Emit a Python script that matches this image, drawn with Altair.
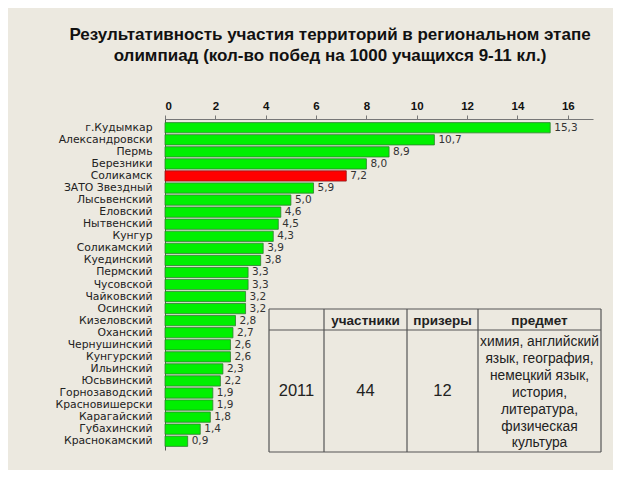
import altair as alt
import pandas as pd

territories = ["г.Кудымкар", "Александровски", "Пермь", "Березники", "Соликамск",
               "ЗАТО Звездный", "Лысьвенский", "Еловский", "Нытвенский", "Кунгур",
               "Соликамский", "Куединский", "Пермский", "Чусовской", "Чайковский",
               "Осинский", "Кизеловский", "Оханский", "Чернушинский", "Кунгурский",
               "Ильинский", "Юсьвинский", "Горнозаводский", "Красновишерски",
               "Карагайский", "Губахинский", "Краснокамский"]
wins = [15.3, 10.7, 8.9, 8.0, 7.2, 5.9, 5.0, 4.6, 4.5, 4.3, 3.9, 3.8, 3.3, 3.3, 3.2,
        3.2, 2.8, 2.7, 2.6, 2.6, 2.3, 2.2, 1.9, 1.9, 1.8, 1.4, 0.9]
highlight = "Соликамск"

title_lines = ["Результативность участия территорий в региональном этапе",
               "олимпиад (кол-во побед на 1000 учащихся 9-11 кл.)"]

table_header = ["участники", "призеры", "предмет"]
table_row = ["2011", "44", "12"]
subjects = ["химия, английский", "язык, география,", "немецкий язык,", "история,",
            "литература,", "физическая", "культура"]

df = pd.DataFrame({"territory": territories, "wins": wins})
df["hl"] = df["territory"].eq(highlight)

BG = "#ECE9E0"
W, H = 428, 331

x_scale = alt.Scale(domain=[0, 17], nice=False, zero=True)
y_scale = alt.Scale(paddingInner=0.15, paddingOuter=0.3)

base = alt.Chart(df)

bars = base.mark_bar(strokeWidth=0.8).encode(
    x=alt.X("wins:Q", scale=x_scale,
            axis=alt.Axis(orient="top", values=list(range(0, 17, 2)), title=None,
                          grid=False, labelFontSize=11.5, labelColor="#111",
                          labelFontWeight="bold", labelFont="Liberation Sans",
                          tickSize=4, tickColor="#777", domainColor="#777",
                          labelPadding=4)),
    y=alt.Y("territory:N", sort=territories, scale=y_scale,
            axis=alt.Axis(title=None, ticks=False, labelFontSize=10.8,
                          labelColor="#222", labelFont="DejaVu Sans",
                          labelPadding=13, domainColor="#555", labelLimit=200)),
    color=alt.Color("hl:N", scale=alt.Scale(domain=[False, True],
                                            range=["#00F000", "#FF0000"]), legend=None),
    stroke=alt.Stroke("hl:N", scale=alt.Scale(domain=[False, True],
                                              range=["#2E7D2E", "#8B1A1A"]), legend=None),
)

labels = base.transform_calculate(
    lab="replace(format(datum.wins, '.1f'), '.', ',')"
).mark_text(align="left", baseline="middle", dx=4, fontSize=10.5,
            color="#333", font="DejaVu Sans").encode(
    x=alt.X("wins:Q", scale=x_scale),
    y=alt.Y("territory:N", sort=territories, scale=y_scale),
    text="lab:N",
)

# table (positions relative to the plot area)
one = pd.DataFrame({"a": [0]})
tx = [104, 159, 242, 313, 436]
ty = [190, 211, 333]
rules = []
for xv in tx:
    rules.append(alt.Chart(one).mark_rule(color="#555", strokeWidth=1.2).encode(
        x=alt.value(xv), y=alt.value(ty[0]), y2=alt.value(ty[-1])))
for yv in ty:
    rules.append(alt.Chart(one).mark_rule(color="#555", strokeWidth=1.2).encode(
        y=alt.value(yv), x=alt.value(tx[0]), x2=alt.value(tx[-1])))

table_bg = alt.Chart(one).mark_rect(color=BG).encode(
    x=alt.value(tx[0]), x2=alt.value(tx[-1]), y=alt.value(ty[0]), y2=alt.value(ty[-1]))

texts = []
for i, h in enumerate(table_header):
    cx = (tx[i + 1] + tx[i + 2]) / 2
    texts.append(alt.Chart(pd.DataFrame({"t": [h]})).mark_text(
        fontSize=13.5, fontWeight=600, color="#222", font="Liberation Sans").encode(
        text="t:N", x=alt.value(cx), y=alt.value(202)))
for i, v in enumerate(table_row):
    cx = (tx[i] + tx[i + 1]) / 2
    texts.append(alt.Chart(pd.DataFrame({"t": [v]})).mark_text(
        fontSize=16.5, color="#222", font="Liberation Sans").encode(
        text="t:N", x=alt.value(cx), y=alt.value(272)))
for i, s in enumerate(subjects):
    texts.append(alt.Chart(pd.DataFrame({"t": [s]})).mark_text(
        fontSize=13.8, color="#222", font="Liberation Sans").encode(
        text="t:N", x=alt.value((tx[3] + tx[4]) / 2), y=alt.value(223 + i * 16.9)))

chart = alt.layer(bars, labels, table_bg, *rules, *texts).properties(
    width=W, height=H,
    title=alt.TitleParams(title_lines, fontSize=17, fontWeight="bold", color="#111",
                          font="Liberation Sans", anchor="middle", dx=-49,
                          offset=35, lineHeight=21),
    autosize=alt.AutoSizeParams(type="none"),
    padding={"left": 157, "top": 111, "right": 20, "bottom": 20},
).configure(background=BG).configure_view(stroke=None)

chart.save("out.html", embed_options={"renderer": "svg", "actions": False})
